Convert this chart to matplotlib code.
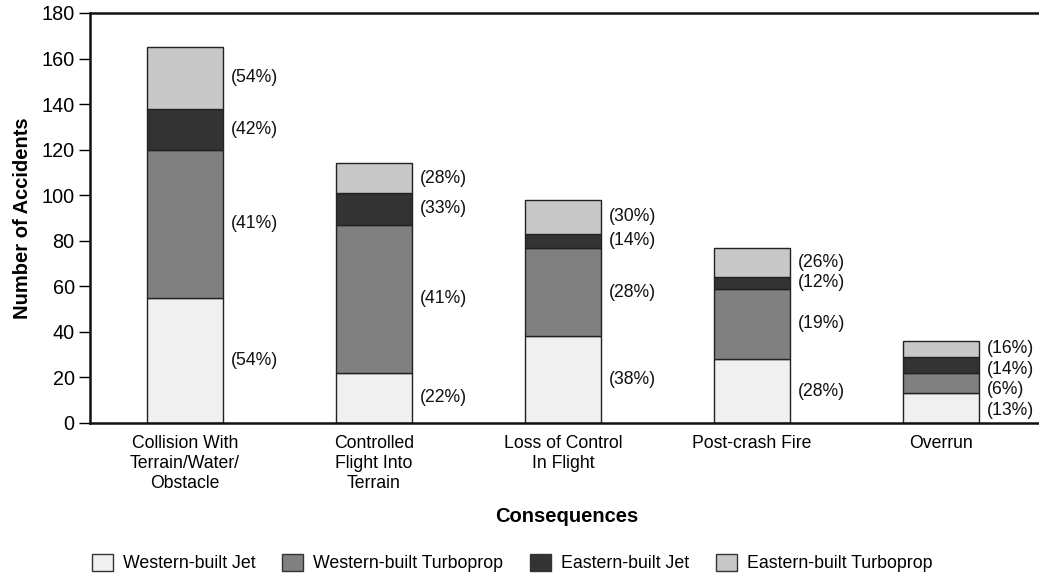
import matplotlib
matplotlib.use("Agg")
import matplotlib.pyplot as plt
from matplotlib.patches import Patch
import numpy as np

plt.rcParams['font.family'] = ['Liberation Sans', 'DejaVu Sans']

categories = ["Collision With\nTerrain/Water/\nObstacle", "Controlled\nFlight Into\nTerrain",
              "Loss of Control\nIn Flight", "Post-crash Fire", "Overrun"]
series_names = ["Western-built Jet", "Western-built Turboprop", "Eastern-built Jet", "Eastern-built Turboprop"]
western_jet = [55, 22, 38, 28, 13]
western_turboprop = [65, 65, 39, 31, 9]
eastern_jet = [18, 14, 6, 5, 7]
eastern_turboprop = [27, 13, 15, 13, 7]
pct_western_jet = ["54%", "22%", "38%", "28%", "13%"]
pct_western_turboprop = ["41%", "41%", "28%", "19%", "6%"]
pct_eastern_jet = ["42%", "33%", "14%", "12%", "14%"]
pct_eastern_turboprop = ["54%", "28%", "30%", "26%", "16%"]

colors = ["#f0f0f0", "#808080", "#333333", "#c8c8c8"]
series = [western_jet, western_turboprop, eastern_jet, eastern_turboprop]
pcts = [pct_western_jet, pct_western_turboprop, pct_eastern_jet, pct_eastern_turboprop]

W, H = 1039, 575
fig = plt.figure(figsize=(W / 100, H / 100), dpi=100)
ax = fig.add_axes([90 / W, (H - 423) / H, (1041 - 90) / W, (423 - 13) / H])

x = np.arange(len(categories))
width = 0.402
bottom = np.zeros(len(categories))
mids = []
for vals, col in zip(series, colors):
    vals = np.array(vals, dtype=float)
    ax.bar(x, vals, width, bottom=bottom, color=col, edgecolor="#222222", linewidth=1.0, zorder=2)
    mids.append(bottom + vals / 2)
    bottom = bottom + vals

# labels at segment midpoints, de-overlapped top-down
mids = np.array(mids)
min_gap = 9.0
for j in range(len(categories)):
    ys = list(mids[:, j])
    prev = None
    for i in range(len(ys) - 1, -1, -1):
        y = ys[i]
        if prev is not None and prev - y < min_gap:
            y = prev - min_gap
        ys[i] = y
        prev = y
    for i in range(len(ys)):
        ax.text(x[j] + width / 2 + 0.04, ys[i], f"({pcts[i][j]})", ha="left", va="center",
                fontsize=12.7, color="#111111")

ax.set_xlim(-0.503, 4.53)
ax.set_ylim(0, 180)
ax.set_yticks(np.arange(0, 181, 20))
ax.tick_params(axis='y', labelsize=14.3, length=8, width=1, direction='out', pad=3)
ax.set_xticks(x)
ax.set_xticklabels(categories, fontsize=12.7, linespacing=1.22)
ax.tick_params(axis='x', length=0, pad=9)
for s in ["left", "bottom", "top"]:
    ax.spines[s].set_linewidth(1.8)
    ax.spines[s].set_color("#111111")
ax.spines["right"].set_visible(False)

ax.set_ylabel("Number of Accidents", fontsize=14.5, fontweight="bold", labelpad=7)
fig.text(567 / W, 1 - 516 / H, "Consequences", ha="center", va="center", fontsize=14.5, fontweight="bold")

handles = [Patch(facecolor=c, edgecolor="#333333", linewidth=1.0, label=n) for c, n in zip(colors, series_names)]
fig.legend(handles=handles, loc="center", bbox_to_anchor=(512 / W, 1 - 563 / H), ncol=4, frameon=False,
           fontsize=12.8, handlelength=1.2, handleheight=1.15, handletextpad=0.55, columnspacing=1.5)

fig.savefig("out.png", dpi=100)
